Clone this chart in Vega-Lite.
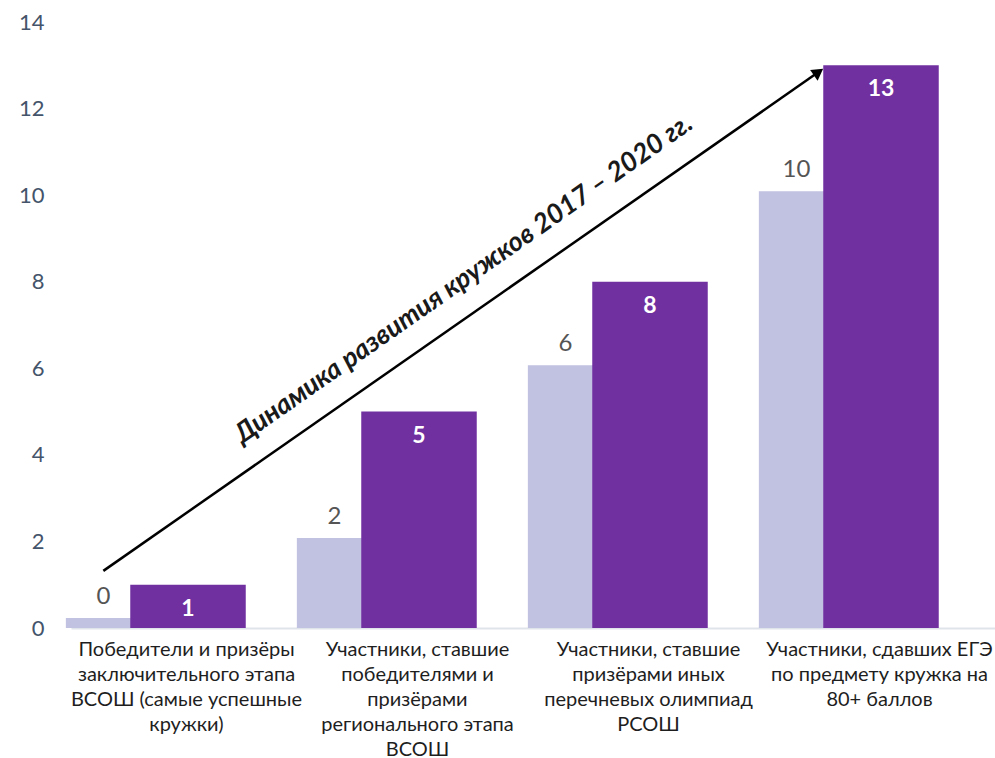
{
  "$schema": "https://vega.github.io/schema/vega-lite/v6.json",
  "width": 924,
  "height": 606,
  "autosize": {"type": "none"},
  "padding": {"left": 71, "top": 22, "right": 0, "bottom": 130},
  "background": "white",
  "config": {"view": {"stroke": null}, "font": "Lato"},
  "datasets": {
    "bars": [
      {"cat": "Победители и призёры|заключительного этапа|ВСОШ (самые успешные|кружки)", "year": "2017", "value": 0.23},
      {"cat": "Победители и призёры|заключительного этапа|ВСОШ (самые успешные|кружки)", "year": "2020", "value": 1},
      {"cat": "Участники, ставшие|победителями и|призёрами|регионального этапа|ВСОШ", "year": "2017", "value": 2.08},
      {"cat": "Участники, ставшие|победителями и|призёрами|регионального этапа|ВСОШ", "year": "2020", "value": 5},
      {"cat": "Участники, ставшие|призёрами иных|перечневых олимпиад|РСОШ", "year": "2017", "value": 6.07},
      {"cat": "Участники, ставшие|призёрами иных|перечневых олимпиад|РСОШ", "year": "2020", "value": 8},
      {"cat": "Участники, сдавших ЕГЭ|по предмету кружка на|80+ баллов", "year": "2017", "value": 10.09},
      {"cat": "Участники, сдавших ЕГЭ|по предмету кружка на|80+ баллов", "year": "2020", "value": 13}
    ],
    "arrow": [
      {"ax": 0.14, "ay": 1.32},
      {"ax": 3.236, "ay": 12.843}
    ],
    "head": [
      {"ax": 3.236, "ay": 12.843}
    ],
    "note": [
      {"tx": 1.70, "ty": 8.06, "t": "Динамика развития кружков 2017 – 2020 гг."}
    ]
  },
  "resolve": {"scale": {"x": "independent"}},
  "layer": [
    {
      "data": {"name": "bars"},
      "layer": [
        {
          "transform": [{"filter": "datum.year === '2017'"}],
          "mark": {"type": "bar", "color": "#c1c1e1", "width": {"band": 0.3}, "xOffset": -86},
          "encoding": {
            "x": {"field": "cat", "type": "nominal", "sort": null,
              "scale": {"paddingInner": 0, "paddingOuter": 0},
              "axis": {"title": null, "labelAngle": 0, "labelExpr": "split(datum.label, '|')",
                "labelFontSize": 20, "labelLineHeight": 25, "labelColor": "#1e1e1e",
                "labelPadding": 11, "labelLimit": 0, "labelBaseline": "top",
                "ticks": false, "domainColor": "#dfe3ea", "domainWidth": 2, "labelOverlap": false}},
            "y": {"field": "value", "type": "quantitative",
              "scale": {"domain": [0, 14], "nice": false},
              "axis": {"title": null, "values": [0, 2, 4, 6, 8, 10, 12, 14], "grid": false,
                "domain": false, "ticks": false, "labelPadding": 27, "labelFontSize": 22,
                "labelColor": "#44546a"}}
          }
        },
        {
          "transform": [{"filter": "datum.year === '2017'"}],
          "mark": {"type": "text", "baseline": "alphabetic", "dy": -14, "xOffset": -83,
            "fontSize": 24, "color": "#555555"},
          "encoding": {
            "x": {"field": "cat", "type": "nominal", "sort": null},
            "y": {"field": "value", "type": "quantitative"},
            "text": {"field": "value", "type": "quantitative", "format": ".0f"}
          }
        },
        {
          "transform": [{"filter": "datum.year === '2020'"}],
          "mark": {"type": "bar", "color": "#7030a0", "width": {"band": 0.5}, "xOffset": 1.5},
          "encoding": {
            "x": {"field": "cat", "type": "nominal", "sort": null},
            "y": {"field": "value", "type": "quantitative"}
          }
        },
        {
          "transform": [{"filter": "datum.year === '2020'"}],
          "mark": {"type": "text", "baseline": "top", "dy": 13, "xOffset": 1.5,
            "fontSize": 23, "fontWeight": "bold", "color": "white"},
          "encoding": {
            "x": {"field": "cat", "type": "nominal", "sort": null},
            "y": {"field": "value", "type": "quantitative"},
            "text": {"field": "value", "type": "quantitative", "format": ".0f"}
          }
        }
      ]
    },
    {
      "data": {"name": "arrow"},
      "mark": {"type": "line", "color": "black", "strokeWidth": 2.5},
      "encoding": {
        "x": {"field": "ax", "type": "quantitative", "scale": {"domain": [0, 4], "nice": false, "zero": false}, "axis": null},
        "y": {"field": "ay", "type": "quantitative", "scale": {"domain": [0, 14], "nice": false}}
      }
    },
    {
      "data": {"name": "head"},
      "mark": {"type": "point", "shape": "triangle-up", "filled": true, "color": "black", "opacity": 1, "size": 170, "angle": 55},
      "encoding": {
        "x": {"field": "ax", "type": "quantitative", "scale": {"domain": [0, 4], "nice": false, "zero": false}, "axis": null},
        "y": {"field": "ay", "type": "quantitative", "scale": {"domain": [0, 14], "nice": false}}
      }
    },
    {
      "data": {"name": "note"},
      "mark": {"type": "text", "angle": 325, "fontSize": 27, "fontStyle": "italic", "fontWeight": "bold", "color": "#1a1a1a", "align": "center", "baseline": "middle"},
      "encoding": {
        "x": {"field": "tx", "type": "quantitative", "scale": {"domain": [0, 4], "nice": false, "zero": false}, "axis": null},
        "y": {"field": "ty", "type": "quantitative", "scale": {"domain": [0, 14], "nice": false}},
        "text": {"field": "t"}
      }
    }
  ]
}
